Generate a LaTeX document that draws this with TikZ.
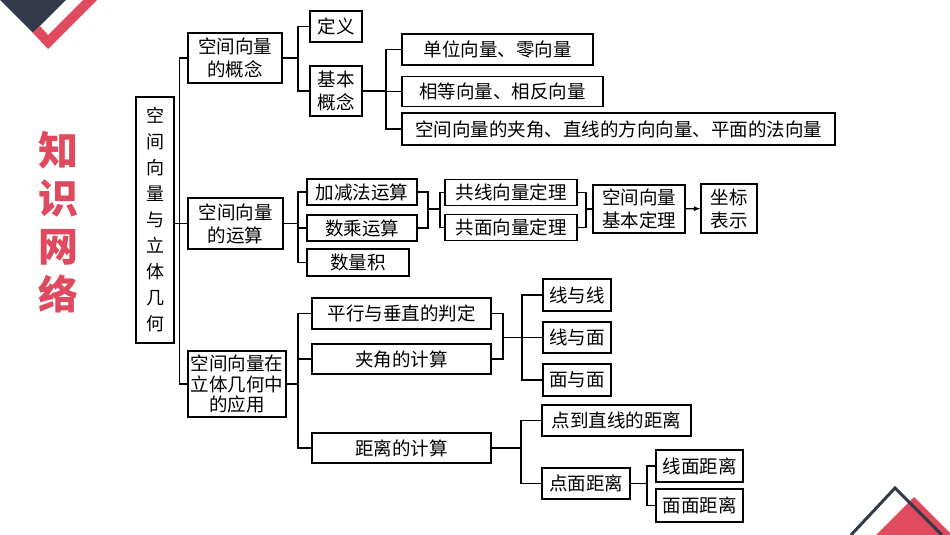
\documentclass[tikz,border=0pt]{standalone}
\usepackage{fontspec}
\setmainfont{Noto Sans CJK SC}
\usepackage{tikz}
\definecolor{decored}{HTML}{E04A5F}
\definecolor{decodark}{HTML}{343A4A}

\begin{document}
\begin{tikzpicture}[x=1pt,y=-1pt,line width=1.2pt,
  every node/.style={draw,line width=1.3pt,inner sep=0pt,align=center,font=\fontsize{18.5}{23}\selectfont}]
  \useasboundingbox (0,0) rectangle (950,535);

  % corner marks
  \fill[decodark] (0,0) -- (66,0) -- (33,33) -- cycle;
  \fill[decored] (33,33) -- (48,49) -- (97,0) -- (83,0) -- (48,35) -- (40,26) -- cycle;
  \fill[decored] (876,535) -- (914,497) -- (952,535) -- cycle;
  \draw[decodark,line width=3pt] (851,535) -- (895,488) -- (942,535);

  \node[draw=none,text=decored,font=\fontsize{40}{48}\selectfont\bfseries] (title) at (58,222) {知\\识\\网\\络};

  % boxes
  \node[minimum width=38,minimum height=246,font=\fontsize{18}{26}\selectfont] (root) at (155,220) {空\\间\\向\\量\\与\\立\\体\\几\\何};

  \node[minimum width=94,minimum height=50] (concept) at (235,58) {空间向量\\的概念};
  \node[minimum width=95,minimum height=51] (oper) at (235.5,223.5) {空间向量\\的运算};
  \node[minimum width=98,minimum height=66,font=\fontsize{18.5}{20.5}\selectfont] (apply) at (237,384) {空间向量在\\立体几何中\\的应用};

  \node[minimum width=52,minimum height=31] (def) at (336,26.5) {定义};
  \node[minimum width=52,minimum height=50] (basic) at (336,91) {基本\\概念};
  \node[minimum width=191,minimum height=31] (unit) at (497.5,49.5) {单位向量、零向量};
  \node[minimum width=201,minimum height=30] (equal) at (502.5,91.5) {相等向量、相反向量};
  \node[minimum width=433,minimum height=32] (angle) at (618.5,129) {空间向量的夹角、直线的方向向量、平面的法向量};

  \node[minimum width=110,minimum height=26] (addsub) at (362,192) {加减法运算};
  \node[minimum width=110,minimum height=26] (scalar) at (362,228) {数乘运算};
  \node[minimum width=102,minimum height=27] (dotp) at (358,262.5) {数量积};
  \node[minimum width=132,minimum height=26] (colin) at (511,192.5) {共线向量定理};
  \node[minimum width=132,minimum height=26] (copl) at (511,227.5) {共面向量定理};
  \node[minimum width=92,minimum height=48] (basis) at (639,209) {空间向量\\基本定理};
  \node[minimum width=56,minimum height=49] (coord) at (729,208.5) {坐标\\表示};

  \node[minimum width=179,minimum height=31] (judge) at (401.5,313.5) {平行与垂直的判定};
  \node[minimum width=179,minimum height=30] (angc) at (401.5,359) {夹角的计算};
  \node[minimum width=179,minimum height=30] (dist) at (401.5,448) {距离的计算};
  \node[minimum width=68,minimum height=32] (ll) at (577,295) {线与线};
  \node[minimum width=68,minimum height=31] (lp) at (577,337.5) {线与面};
  \node[minimum width=68,minimum height=32] (pp) at (577,380) {面与面};
  \node[minimum width=149,minimum height=31] (ptline) at (616.5,420.5) {点到直线的距离};
  \node[minimum width=88,minimum height=31] (ptpl) at (586,483.5) {点面距离};
  \node[minimum width=87,minimum height=32] (lpd) at (699.5,466) {线面距离};
  \node[minimum width=87,minimum height=33] (ppd) at (699.5,505.5) {面面距离};

  % bracket positions
  \coordinate (bA) at (298,0);
  \coordinate (bB) at (386,0);
  \coordinate (bC) at (428,0);
  \coordinate (bD) at (440,0);
  \coordinate (bE) at (586,0);
  \coordinate (bF) at (503,0);
  \coordinate (bG) at (522,0);
  \coordinate (bH) at (521,0);
  \coordinate (bI) at (647,0);

  % connectors
  \draw (concept.west) -- ++(-8,0) |- (apply.west);
  \draw (root.east |- oper.west) -- (oper.west);

  \draw (concept.east) -- (concept.east -| bA);
  \draw (def.west) -| (bA |- basic.west) -- (basic.west);
  \draw (basic.east) -- (basic.east -| bB);
  \draw (unit.west) -| (bB |- angle.west) -- (angle.west);
  \draw (bB |- equal.west) -- (equal.west);

  \draw (oper.east) -- (oper.east -| bA);
  \draw (addsub.west) -| (bA |- dotp.west) -- (dotp.west);
  \draw (bA |- scalar.west) -- (scalar.west);
  \draw (addsub.east) -| (bC |- scalar.east) -- (scalar.east);
  \draw (bC |- basis.west) -- (bD |- basis.west);
  \draw (colin.west) -| (bD |- copl.west) -- (copl.west);
  \draw (colin.east) -| (bE |- copl.east) -- (copl.east);
  \draw (bE |- basis.west) -- (basis.west);
  \draw[-latex] (basis) -- (coord);

  \draw (apply.east) -- (apply.east -| bA);
  \draw (judge.west) -| (bA |- dist.west) -- (dist.west);
  \draw (bA |- angc.west) -- (angc.west);
  \draw (judge.east) -| (bF |- angc.east) -- (angc.east);
  \draw (bF |- lp.west) -- (lp.west);
  \draw (ll.west) -| (bG |- pp.west) -- (pp.west);
  \draw (dist.east) -- (dist.east -| bH);
  \draw (ptline.west) -| (bH |- ptpl.west) -- (ptpl.west);
  \draw (ptpl.east) -- (ptpl.east -| bI);
  \draw (lpd.west) -| (bI |- ppd.west) -- (ppd.west);
\end{tikzpicture}
\end{document}
